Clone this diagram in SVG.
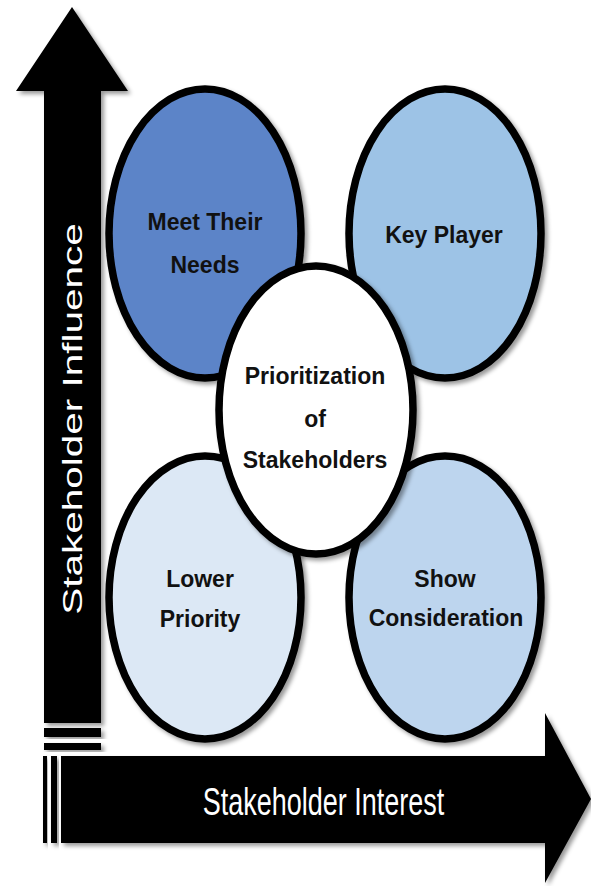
<svg xmlns="http://www.w3.org/2000/svg" width="591" height="886" viewBox="0 0 591 886">
  <defs>
    <filter id="sh" x="-10%" y="-10%" width="130%" height="130%">
      <feDropShadow dx="3" dy="3" stdDeviation="2" flood-color="#000" flood-opacity="0.4"/>
    </filter>
    <style>
      .bub { stroke: #000; stroke-width: 7.5; filter: url(#sh); }
      .lbl { font-family: "Liberation Sans", Arial, sans-serif; font-weight: bold; font-size: 23px; fill: #111; text-anchor: middle; }
      .axis { font-family: "Liberation Sans", Arial, sans-serif; font-size: 27px; fill: #fff; text-anchor: middle; }
      .arrow { fill: #000; filter: url(#sh); }
    </style>
  </defs>
  <rect width="591" height="886" fill="#fff"/>

  <g id="connectors">
    <g id="axis-influence">
      <polygon class="arrow" points="72,7 128,91 101,91 101,723 44,723 44,91 16,91"/>
      <rect class="arrow" x="44" y="728" width="57" height="9"/>
      <rect class="arrow" x="44" y="743" width="57" height="7"/>
      <text class="axis" transform="translate(82,419) rotate(-90) scale(1.5,1)" font-size="28">Stakeholder Influence</text>
    </g>
    <g id="axis-interest">
      <rect class="arrow" x="43" y="756" width="4" height="87"/>
      <rect class="arrow" x="51" y="756" width="6" height="87"/>
      <polygon class="arrow" points="61,756 545,756 545,713 591,799 545,883 545,843 61,843"/>
      <text class="axis" transform="translate(323.5,815) scale(1,1.42)">Stakeholder Interest</text>
    </g>
  </g>

  <g id="node-meet">
    <ellipse class="bub" cx="205" cy="233.5" rx="96" ry="144.5" fill="#5b84c8"/>
    <text class="lbl" x="205" y="230">Meet Their</text>
    <text class="lbl" x="205" y="273">Needs</text>
  </g>
  <g id="node-key">
    <ellipse class="bub" cx="445" cy="233.5" rx="96" ry="144.5" fill="#9dc3e6"/>
    <text class="lbl" x="444" y="243">Key Player</text>
  </g>
  <g id="node-lower">
    <ellipse class="bub" cx="205" cy="597.5" rx="96" ry="141.5" fill="#dce8f5"/>
    <text class="lbl" x="200" y="587">Lower</text>
    <text class="lbl" x="200" y="627">Priority</text>
  </g>
  <g id="node-show">
    <ellipse class="bub" cx="445" cy="597.5" rx="96" ry="141.5" fill="#bdd5ee"/>
    <text class="lbl" x="445" y="587">Show</text>
    <text class="lbl" x="446" y="626">Consideration</text>
  </g>
  <g id="node-center">
    <ellipse class="bub" cx="316" cy="410" rx="97" ry="144" fill="#fff"/>
    <text class="lbl" x="315" y="384">Prioritization</text>
    <text class="lbl" x="315" y="427">of</text>
    <text class="lbl" x="315" y="468">Stakeholders</text>
  </g>
</svg>
